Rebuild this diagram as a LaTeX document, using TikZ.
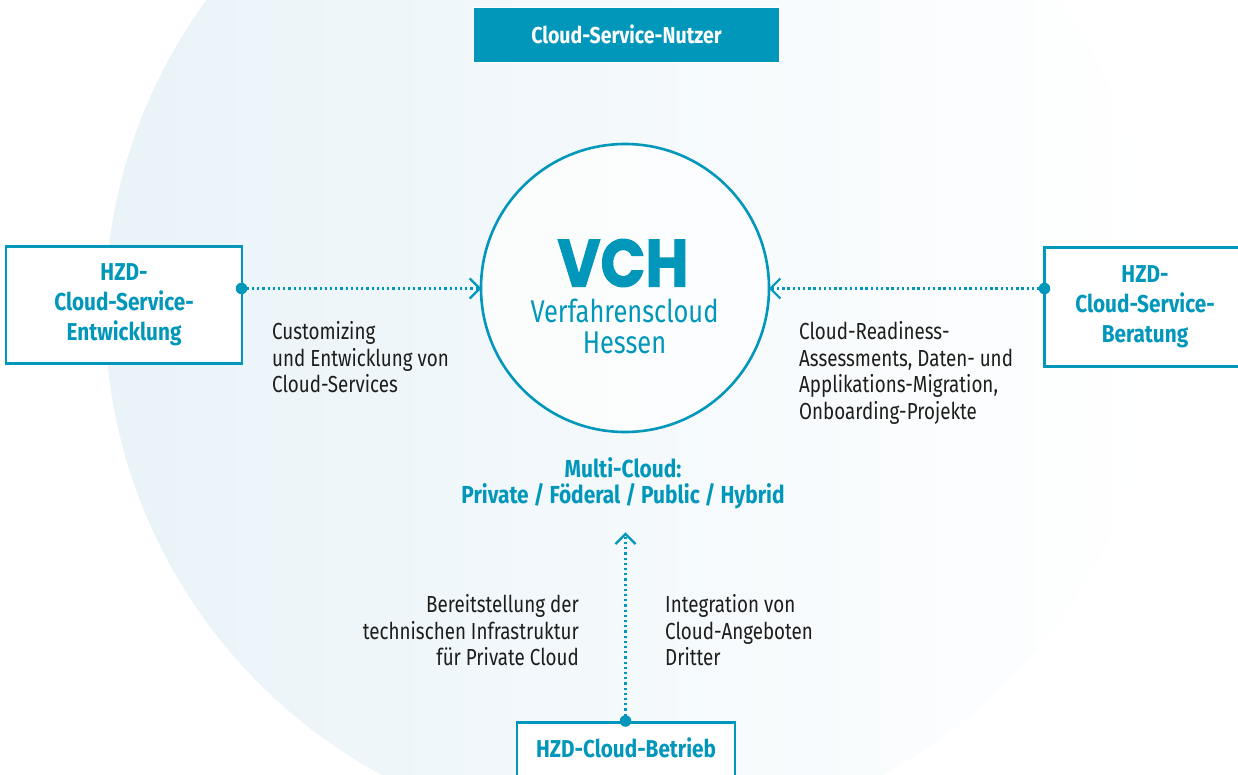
\documentclass[tikz,border=0pt]{standalone}
\usepackage{fontspec}
\setmainfont[FakeStretch=0.81]{Fira Sans}
\newfontfamily\bfc[FakeStretch=0.85]{Fira Sans Bold}
\newfontfamily\logof[FakeStretch=0.88,FakeBold=1.6]{Poppins}
\definecolor{hzd}{HTML}{0097BA}
\definecolor{bgb}{HTML}{E9F3F8}
\definecolor{txt}{HTML}{1D1D1B}
\usetikzlibrary{arrows.meta,shadings}
\tikzset{
  boxb/.style={draw=hzd,line width=2.8pt,fill=white,text=hzd,align=center,font=\fontsize{24.4}{30}\selectfont\bfc,inner sep=0pt},
  lab/.style={text=txt,font=\fontsize{23.2}{26.7}\selectfont,inner sep=0pt},
  dotl/.style={hzd,line width=2.3pt,dash pattern=on 2.3pt off 2.9pt},
  tipl/.style={hzd,line width=2.2pt},
  dotend/.style={circle,fill=hzd,inner sep=0pt,minimum size=11.5pt}
}
\pgfdeclarehorizontalshading{bgsh}{100bp}{color(0bp)=(bgb);color(25bp)=(bgb);color(50bp)=(bgb!50!white);color(62bp)=(bgb!25!white);color(75bp)=(white);color(100bp)=(white)}
\begin{document}
\begin{tikzpicture}[x=1pt,y=-1pt]
\useasboundingbox (0,0) rectangle (1238,774);
\fill[white] (0,0) rectangle (1238,774);
\begin{scope}
\clip (0,0) rectangle (1238,774);
\path[shading=bgsh] (632,311) circle[radius=527];
\end{scope}
% centre circle
\node[circle,draw=hzd,line width=2.6pt,fill=white,fill opacity=.75,draw opacity=1,minimum size=288pt,inner sep=0pt] (vch) at (625,288) {};
\node[text=hzd,font=\fontsize{67}{67}\selectfont\logof\bfseries,inner sep=0pt] (vchl) at (623,263) {VCH};
\node[text=hzd,align=center,font=\fontsize{31.4}{31}\selectfont,inner sep=0pt] (vcht) at (624.5,326) {Verfahrenscloud\\Hessen};
% boxes
\node[draw=white,line width=1pt,fill=hzd,text=white,font=\fontsize{23}{26}\selectfont\bfc,minimum width=306pt,minimum height=55pt,inner sep=0pt] (nutzer) at (626.5,34.6) {Cloud-Service-Nutzer};
\node[boxb,minimum width=236pt,minimum height=117pt] (ent) at (124,305.2) {HZD-\\Cloud-Service-\\Entwicklung};
\node[boxb,minimum width=201pt,minimum height=119pt] (ber) at (1145,306.7) {HZD-\\Cloud-Service-\\Beratung};
\node[boxb,minimum width=218pt,minimum height=60pt,anchor=north] (bet) at (626,721) {\raisebox{-5.5pt}[0pt][0pt]{HZD-Cloud-Betrieb}};
\coordinate (betc) at (625.5,721);
\coordinate (entc) at (241.5,288.5);
\coordinate (berc) at (1044.5,288.5);
\coordinate (upt) at (625.5,534);
% connectors
\draw[dotl] (entc) -- (vch.west |- entc);
\draw[dotl] (berc) -- (vch.east |- berc);
\draw[dotl] (betc) -- (upt);
\draw[tipl] ([shift={(-10,-10)}]vch.west |- entc) -- (vch.west |- entc) -- ([shift={(-10,10)}]vch.west |- entc);
\draw[tipl] ([shift={(10,-10)}]vch.east |- berc) -- (vch.east |- berc) -- ([shift={(10,10)}]vch.east |- berc);
\draw[tipl] ([shift={(-10,10)}]upt) -- (upt) -- ([shift={(10,10)}]upt);
\node[dotend] at (entc) {};
\node[dotend] at (berc) {};
\node[dotend] at (betc) {};
% labels
\node[lab,align=left,anchor=north west] (l1) at (272,321) {Customizing\\und Entwicklung von\\Cloud-Services};
\node[lab,align=left,anchor=north west] (l2) at (799,321) {Cloud-Readiness-\\Assessments, Daten- und\\Applikations-Migration,\\Onboarding-Projekte};
\node[lab,align=right,anchor=north east] (l3) at (579,594) {Bereitstellung der\\technischen Infrastruktur\\für Private Cloud};
\node[lab,align=left,anchor=north west] (l4) at (665,594) {Integration von\\Cloud-Angeboten\\Dritter};
\node[text=hzd,align=center,font=\fontsize{24.6}{26.5}\selectfont\bfc,inner sep=0pt] (mc) at (623,483) {Multi-Cloud:\\Private / Föderal / Public / Hybrid};
\end{tikzpicture}
\end{document}
